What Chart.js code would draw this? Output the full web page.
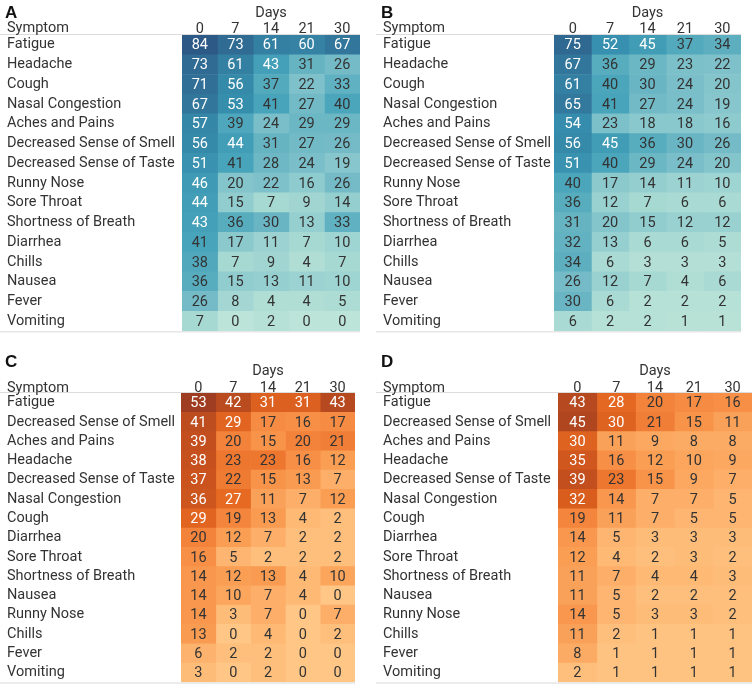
<!DOCTYPE html>
<html>
<head>
<meta charset="utf-8">
<script src="https://cdn.jsdelivr.net/npm/chart.js@4"></script>
<style>
  body { margin: 0; background: #fff; }
  #wrap { position: relative; width: 753px; height: 691px; }
  canvas { position: absolute; }
</style>
</head>
<body>
<div id="wrap">
  <canvas id="cA" width="376" height="345" style="left:0;top:0"></canvas>
  <canvas id="cB" width="377" height="345" style="left:376px;top:0"></canvas>
  <canvas id="cC" width="376" height="346" style="left:0;top:345px"></canvas>
  <canvas id="cD" width="377" height="346" style="left:376px;top:345px"></canvas>
</div>
<script>
// data
const days = ['0', '7', '14', '21', '30'];

const symptomsAB = ['Fatigue', 'Headache', 'Cough', 'Nasal Congestion', 'Aches and Pains',
  'Decreased Sense of Smell', 'Decreased Sense of Taste', 'Runny Nose', 'Sore Throat',
  'Shortness of Breath', 'Diarrhea', 'Chills', 'Nausea', 'Fever', 'Vomiting'];

const symptomsCD = ['Fatigue', 'Decreased Sense of Smell', 'Aches and Pains', 'Headache',
  'Decreased Sense of Taste', 'Nasal Congestion', 'Cough', 'Diarrhea', 'Sore Throat',
  'Shortness of Breath', 'Nausea', 'Runny Nose', 'Chills', 'Fever', 'Vomiting'];

// one row per symptom, one column per day
const valuesA = [
  [84, 73, 61, 60, 67], [73, 61, 43, 31, 26], [71, 56, 37, 22, 33], [67, 53, 41, 27, 40],
  [57, 39, 24, 29, 29], [56, 44, 31, 27, 26], [51, 41, 28, 24, 19], [46, 20, 22, 16, 26],
  [44, 15, 7, 9, 14], [43, 36, 30, 13, 33], [41, 17, 11, 7, 10], [38, 7, 9, 4, 7],
  [36, 15, 13, 11, 10], [26, 8, 4, 4, 5], [7, 0, 2, 0, 0]
];
const valuesB = [
  [75, 52, 45, 37, 34], [67, 36, 29, 23, 22], [61, 40, 30, 24, 20], [65, 41, 27, 24, 19],
  [54, 23, 18, 18, 16], [56, 45, 36, 30, 26], [51, 40, 29, 24, 20], [40, 17, 14, 11, 10],
  [36, 12, 7, 6, 6], [31, 20, 15, 12, 12], [32, 13, 6, 6, 5], [34, 6, 3, 3, 3],
  [26, 12, 7, 4, 6], [30, 6, 2, 2, 2], [6, 2, 2, 1, 1]
];
const valuesC = [
  [53, 42, 31, 31, 43], [41, 29, 17, 16, 17], [39, 20, 15, 20, 21], [38, 23, 23, 16, 12],
  [37, 22, 15, 13, 7], [36, 27, 11, 7, 12], [29, 19, 13, 4, 2], [20, 12, 7, 2, 2],
  [16, 5, 2, 2, 2], [14, 12, 13, 4, 10], [14, 10, 7, 4, 0], [14, 3, 7, 0, 7],
  [13, 0, 4, 0, 2], [6, 2, 2, 0, 0], [3, 0, 2, 0, 0]
];
const valuesD = [
  [43, 28, 20, 17, 16], [45, 30, 21, 15, 11], [30, 11, 9, 8, 8], [35, 16, 12, 10, 9],
  [39, 23, 15, 9, 7], [32, 14, 7, 7, 5], [19, 11, 7, 5, 5], [14, 5, 3, 3, 3],
  [12, 4, 2, 3, 2], [11, 7, 4, 4, 3], [11, 5, 2, 2, 2], [14, 5, 3, 3, 2],
  [11, 2, 1, 1, 1], [8, 1, 1, 1, 1], [2, 1, 1, 1, 1]
];

const blueStops = ['#bce4d8', '#9dd3d1', '#81c3cb', '#65b3c2', '#45a2b9', '#368fae', '#347da0', '#306a93', '#2c5985'];
const orangeStops = ['#ffc685', '#fdb06b', '#f99a4f', '#f3823a', '#e86b24', '#d65b1d', '#c14e1f', '#ab4420', '#9e3d22'];

function hex(c) { return [1, 3, 5].map(k => parseInt(c.substr(k, 2), 16)); }
function ramp(stops, t) {
  t = Math.max(0, Math.min(1, t));
  const p = t * (stops.length - 1), i = Math.min(Math.floor(p), stops.length - 2), f = p - i;
  const a = hex(stops[i]), b = hex(stops[i + 1]);
  return 'rgb(' + a.map((v, k) => Math.round(v + (b[k] - v) * f)).join(',') + ')';
}

const FONT = 'Roboto';
const FS = 14.5;

const heatText = {
  id: 'heatText',
  afterDatasetsDraw(chart, args, o) {
    const { ctx, chartArea, scales: { x, y } } = chart;
    ctx.save();
    ctx.font = FS + 'px ' + FONT;
    ctx.textAlign = 'center';
    ctx.textBaseline = 'middle';
    o.values.forEach((row, j) => row.forEach((v, i) => {
      ctx.fillStyle = v / o.max > 0.5 ? '#ffffff' : '#333333';
      ctx.fillText(String(v), x.getPixelForValue(i + 0.5), y.getPixelForValue(j) + 1);
    }));
    // header + bottom rules
    ctx.fillStyle = '#dcdcdc';
    ctx.fillRect(0, chartArea.top - 1, chartArea.right, 1);
    ctx.fillStyle = '#e6e6e6';
    ctx.fillRect(0, chartArea.bottom, chartArea.right, 1.5);
    // panel letter and row header
    ctx.fillStyle = '#111';
    ctx.font = 'bold 17px "Liberation Sans"';
    ctx.textAlign = 'left';
    ctx.textBaseline = 'alphabetic';
    ctx.fillText(o.letter, 5, o.letterY);
    ctx.fillStyle = '#333';
    ctx.font = FS + 'px ' + FONT;
    ctx.textBaseline = 'middle';
    ctx.fillText('Symptom', 7, chartArea.top - o.tickMid);
    ctx.restore();
  }
};

function makePanel(id, letter, symptoms, values, stops, max, lay) {
  const datasets = days.map((d, i) => ({
    label: d,
    data: symptoms.map(() => [i, i + 1]),
    backgroundColor: values.map(r => ramp(stops, r[i] / max)),
    borderWidth: 0,
    grouped: false,
    barPercentage: 1,
    categoryPercentage: 1
  }));
  return new Chart(document.getElementById(id), {
    type: 'bar',
    data: { labels: symptoms, datasets },
    options: {
      indexAxis: 'y',
      responsive: false,
      animation: false,
      events: [],
      layout: { padding: { top: lay.top, left: 7, right: lay.right, bottom: lay.bottom } },
      plugins: {
        legend: { display: false },
        tooltip: { enabled: false },
        heatText: { values, max, letter, letterY: lay.letterY, tickMid: lay.tickMid }
      },
      scales: {
        x: {
          type: 'linear', position: 'top', min: 0, max: 5,
          grid: { display: false, drawTicks: false },
          border: { display: false },
          afterBuildTicks: ax => { ax.ticks = days.map((d, i) => ({ value: i + 0.5 })); },
          afterFit: ax => { ax.height = lay.xh; },
          ticks: {
            callback: (v, i) => days[i],
            color: '#333', font: { family: FONT, size: FS }, padding: lay.tickPad,
            maxRotation: 0, autoSkip: false
          },
          title: { display: true, text: 'Days', color: '#333',
            font: { family: FONT, size: FS }, padding: { top: lay.titlePad, bottom: 0 } }
        },
        y: {
          grid: { display: false, drawTicks: false },
          border: { display: false },
          afterFit: ax => { ax.width = lay.yw; },
          ticks: { crossAlign: 'far', color: '#333', font: { family: FONT, size: FS }, padding: 0, autoSkip: false }
        }
      }
    },
    plugins: [heatText]
  });
}

makePanel('cA', 'A', symptomsAB, valuesA, blueStops, 84,
  { top: 0, right: 16, bottom: 14, xh: 35, yw: 175, tickPad: -3, titlePad: 5, letterY: 18, tickMid: 7 });
makePanel('cB', 'B', symptomsAB, valuesB, blueStops, 84,
  { top: 0, right: 12, bottom: 14, xh: 35, yw: 171, tickPad: -3, titlePad: 5, letterY: 18, tickMid: 7 });
makePanel('cC', 'C', symptomsCD, valuesC, orangeStops, 53,
  { top: 13, right: 21, bottom: 1, xh: 35, yw: 174, tickPad: -4, titlePad: 5, letterY: 22, tickMid: 5 });
makePanel('cD', 'D', symptomsCD, valuesD, orangeStops, 53,
  { top: 13, right: 1, bottom: 1, xh: 35, yw: 175, tickPad: -4, titlePad: 5, letterY: 22, tickMid: 5 });
</script>
</body>
</html>
